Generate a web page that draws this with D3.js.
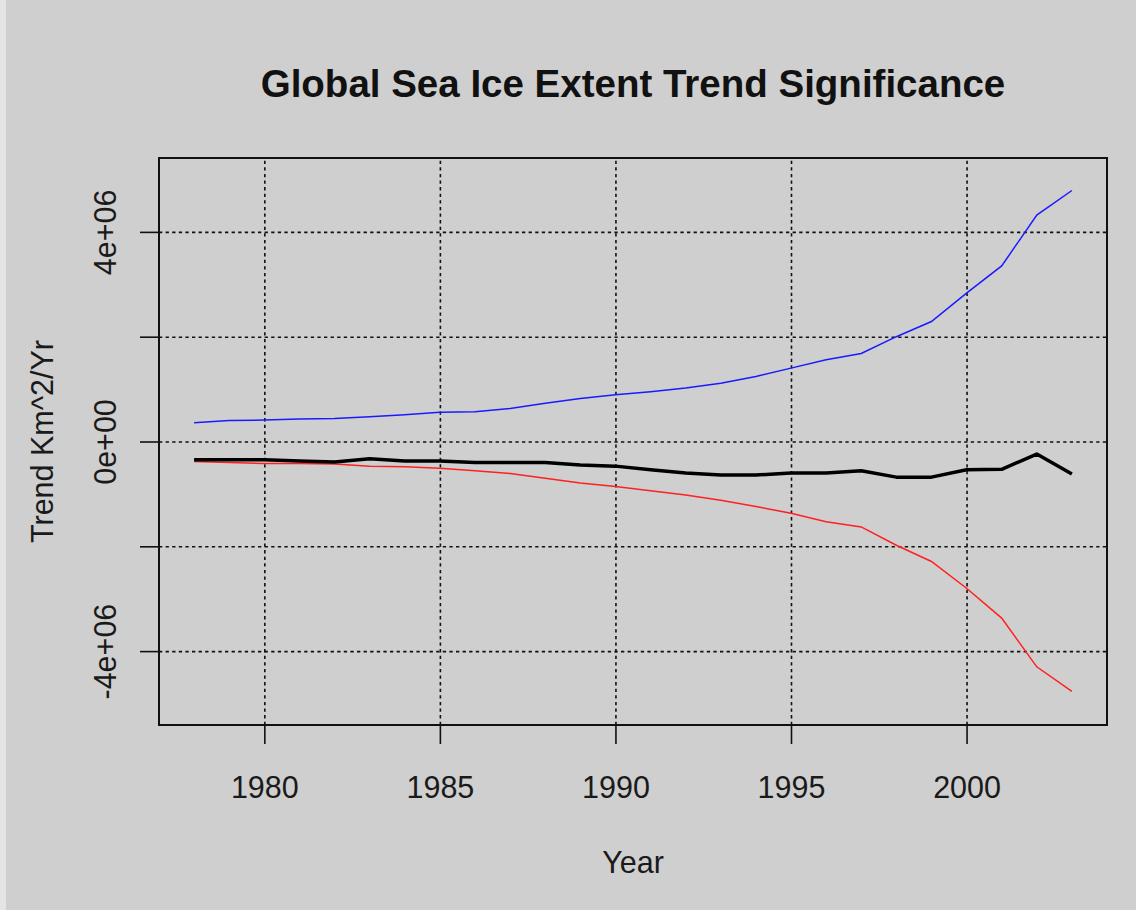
<!DOCTYPE html>
<html>
<head>
<meta charset="utf-8">
<script src="https://cdn.jsdelivr.net/npm/d3@7"></script>
<style>
    body { margin: 0; background: #cfcfcf; }
    svg { display: block; }
    .axis text { font-family: "Liberation Sans", Arial, sans-serif; font-size: 30.5px; fill: #1a1a1a; }
    .axis .domain { display: none; }
    .axis .tick line { stroke: #111; stroke-width: 1.6; }
    .grid .domain { display: none; }
    .grid .tick line { stroke: #111; stroke-width: 1.6; stroke-dasharray: 3.3 3.3; }
    .grid text { display: none; }
</style>
</head>
<body>
<div id="chart"></div>
<script>
// yearly values (km^2 per year)
const years = [1978, 1979, 1980, 1981, 1982, 1983, 1984, 1985, 1986, 1987, 1988, 1989, 1990,
               1991, 1992, 1993, 1994, 1995, 1996, 1997, 1998, 1999, 2000, 2001, 2002, 2003];
const upperBound = [0.36e6, 0.40e6, 0.41e6, 0.43e6, 0.44e6, 0.47e6, 0.51e6, 0.56e6, 0.57e6, 0.63e6, 0.73e6, 0.82e6, 0.89e6,
                    0.95e6, 1.02e6, 1.11e6, 1.24e6, 1.40e6, 1.56e6, 1.68e6, 2.00e6, 2.29e6, 2.83e6, 3.35e6, 4.32e6, 4.79e6];
const trend = [-0.35e6, -0.35e6, -0.35e6, -0.37e6, -0.39e6, -0.33e6, -0.37e6, -0.37e6, -0.40e6, -0.40e6, -0.40e6, -0.45e6, -0.47e6,
               -0.54e6, -0.60e6, -0.64e6, -0.64e6, -0.60e6, -0.60e6, -0.56e6, -0.68e6, -0.68e6, -0.54e6, -0.53e6, -0.24e6, -0.62e6];
const lowerBound = [-0.38e6, -0.40e6, -0.42e6, -0.42e6, -0.43e6, -0.47e6, -0.48e6, -0.51e6, -0.56e6, -0.61e6, -0.70e6, -0.79e6, -0.86e6,
                    -0.94e6, -1.02e6, -1.12e6, -1.24e6, -1.37e6, -1.53e6, -1.63e6, -1.98e6, -2.29e6, -2.80e6, -3.37e6, -4.30e6, -4.77e6];

const xTicks = [1980, 1985, 1990, 1995, 2000];
const yTicks = [-4e6, -2e6, 0, 2e6, 4e6];
const yTickLabels = ['-4e+06', '', '0e+00', '', '4e+06'];

let width = 1136, height = 910;
const svg = d3.select('#chart')
        .append('svg')
        .attr('width', width)
        .attr('height', height);

svg.append('rect')
    .attr('width', width)
    .attr('height', height)
    .attr('fill', '#cfcfcf');
svg.append('rect')
    .attr('width', 6)
    .attr('height', height)
    .attr('fill', '#e4e4e4');

var margin = {top: 158, right: 29, bottom: 185, left: 159};
var innerwidth = width - margin.left - margin.right;
var innerheight = height - margin.top - margin.bottom;

const g = svg.append('g')
        .attr('transform', "translate(" + margin.left + "," + margin.top + ")");

const xscale = d3.scaleLinear()
        .domain([1977, 2004])
        .range([0, innerwidth]);

const yscale = d3.scaleLinear()
        .domain([-5.41e6, 5.41e6])
        .range([innerheight, 0]);

// dotted grid
g.append('g').attr('class', 'grid')
    .call(d3.axisBottom(xscale).tickValues(xTicks).tickSize(-innerheight))
    .attr('transform', "translate(0," + innerheight + ")");
g.append('g').attr('class', 'grid')
    .call(d3.axisLeft(yscale).tickValues(yTicks).tickSize(-innerwidth));

// x axis
const xaxisG = g.append('g').attr('class', 'axis')
    .call(d3.axisBottom(xscale).tickValues(xTicks).tickFormat(d3.format('d')).tickSize(19))
    .attr('transform', "translate(0," + innerheight + ")");
xaxisG.selectAll('text')
    .attr('y', 73)
    .attr('dy', 0);

// y axis, labels turned like R does
const yaxisG = g.append('g').attr('class', 'axis')
    .call(d3.axisLeft(yscale).tickValues(yTicks).tickSize(19)
        .tickFormat((d, i) => yTickLabels[i]));
yaxisG.selectAll('text')
    .attr('x', 0)
    .attr('y', -43)
    .attr('dy', 0)
    .attr('text-anchor', 'middle')
    .attr('transform', 'rotate(-90)');

const line = vals => d3.line()
    .x((d, i) => xscale(years[i]))
    .y(d => yscale(d))(vals);

g.append('path')
    .attr('d', line(upperBound))
    .attr('fill', 'none')
    .attr('stroke', '#1a1aff')
    .attr('stroke-width', 1.5);

g.append('path')
    .attr('d', line(lowerBound))
    .attr('fill', 'none')
    .attr('stroke', '#ff2020')
    .attr('stroke-width', 1.5);

g.append('path')
    .attr('d', line(trend))
    .attr('fill', 'none')
    .attr('stroke', '#000')
    .attr('stroke-width', 3.5)
    .attr('stroke-linejoin', 'round');

// box
g.append('rect')
    .attr('width', innerwidth)
    .attr('height', innerheight)
    .attr('fill', 'none')
    .attr('stroke', '#111')
    .attr('stroke-width', 2);

svg.append('text')
    .attr('x', margin.left + innerwidth / 2)
    .attr('y', 97)
    .attr('text-anchor', 'middle')
    .style('font-family', '"Liberation Sans", Arial, sans-serif')
    .style('font-weight', 'bold')
    .style('font-size', '38.5px')
    .attr('fill', '#111')
    .text('Global Sea Ice Extent Trend Significance');

svg.append('text')
    .attr('x', margin.left + innerwidth / 2)
    .attr('y', 873)
    .attr('text-anchor', 'middle')
    .style('font-family', '"Liberation Sans", Arial, sans-serif')
    .style('font-size', '30.5px')
    .attr('fill', '#1a1a1a')
    .text('Year');

svg.append('text')
    .attr('transform', 'translate(53,' + (margin.top + innerheight / 2) + ') rotate(-90)')
    .attr('text-anchor', 'middle')
    .style('font-family', '"Liberation Sans", Arial, sans-serif')
    .style('font-size', '30.5px')
    .attr('fill', '#1a1a1a')
    .text('Trend Km^2/Yr');
</script>
</body>
</html>
